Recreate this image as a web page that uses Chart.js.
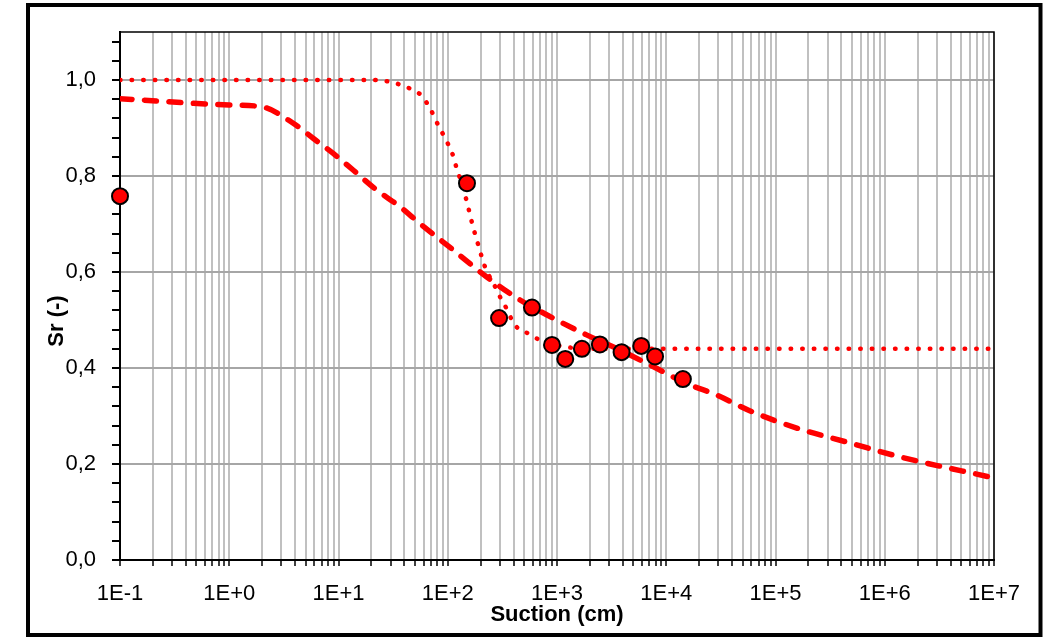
<!DOCTYPE html>
<html>
<head>
<meta charset="utf-8">
<title>Sr vs Suction</title>
<script src="https://cdn.jsdelivr.net/npm/chart.js@4.4.1/dist/chart.umd.min.js"></script>
<style>
	body { margin: 0; background: #fff; }
	#wrap { width: 1045px; height: 638px; position: relative; }
</style>
</head>
<body>
<div id="wrap"><canvas id="chart"></canvas></div>
<script>
// measured points
var measSuction = [0.1, 150, 295, 590, 900, 1190, 1690, 2470, 3900, 5900, 7900, 14200];
var measSr = [0.758, 0.785, 0.504, 0.526, 0.448, 0.419, 0.44, 0.449, 0.433, 0.446, 0.424, 0.377];

// dotted fit
var fitASuction = [0.1, 20, 30, 38, 48, 58, 66, 74, 82, 94, 112, 120, 134, 149, 167, 191, 220, 275, 306, 345, 383, 437, 545, 672, 1070, 2000, 10000000];
var fitASr = [1.0, 1.0, 0.996, 0.989, 0.979, 0.967, 0.948, 0.927, 0.905, 0.88, 0.842, 0.818, 0.785, 0.748, 0.702, 0.655, 0.61, 0.567, 0.545, 0.524, 0.502, 0.483, 0.472, 0.46, 0.446, 0.44, 0.44];

// dashed fit
var fitBSuction = [0.1, 1, 2, 3.85, 5.9, 8.95, 13.6, 22.3, 36.5, 55.6, 112, 226, 457, 920, 1862, 3758, 7570, 15300, 28800, 58000, 166000, 478000, 1370000, 10000000];
var fitBSr = [0.961, 0.948, 0.944, 0.91, 0.878, 0.847, 0.8125, 0.771, 0.736, 0.701, 0.646, 0.59, 0.542, 0.504, 0.469, 0.4375, 0.403, 0.368, 0.344, 0.311, 0.273, 0.244, 0.215, 0.171];

// axis ticks
var xDecades = [-1, 0, 1, 2, 3, 4, 5, 6, 7];
var xLabels = ["1E-1", "1E+0", "1E+1", "1E+2", "1E+3", "1E+4", "1E+5", "1E+6", "1E+7"];
var yMajor = [0, 0.2, 0.4, 0.6, 0.8, 1.0];
var yLabels = ["0,0", "0,2", "0,4", "0,6", "0,8", "1,0"];
var yMinorStep = 0.04;

function toPoints(xs, ys) {
	var out = [];
	for (var i = 0; i < xs.length; i++) out.push({x: xs[i], y: ys[i]});
	return out;
}

var xTickValues = [];
for (var d = 0; d < xDecades.length - 1; d++) {
	for (var m = 1; m <= 9; m++) xTickValues.push(m * Math.pow(10, xDecades[d]));
}
xTickValues.push(Math.pow(10, xDecades[xDecades.length - 1]));

var yTickValues = [];
for (var k = 0; k * yMinorStep < 1.1 - 1e-9; k++) yTickValues.push(Math.round(k * yMinorStep * 100) / 100);

function yMajorIndex(v) {
	for (var i = 0; i < yMajor.length; i++) if (Math.abs(yMajor[i] - v) < 1e-6) return i;
	return -1;
}
function xDecadeIndex(v) {
	for (var i = 0; i < xDecades.length; i++) if (Math.abs(Math.log10(v) - xDecades[i]) < 1e-6) return i;
	return -1;
}

var FONT = "'Liberation Sans', Arial, sans-serif";

var framePlugin = {
	id: "frame",
	afterDraw: function(chart) {
		var c = chart.ctx, a = chart.chartArea;
		c.save();
		// plot box top/right
		c.strokeStyle = "#000";
		c.lineWidth = 1.5;
		c.beginPath();
		c.moveTo(a.left, a.top);
		c.lineTo(a.right, a.top);
		c.lineTo(a.right, a.bottom);
		c.stroke();
		// outer frame
		c.lineWidth = 4;
		c.strokeRect(28, 5, 1012.5, 630);
		// y title
		c.translate(57, 321);
		c.rotate(-Math.PI / 2);
		c.fillStyle = "#000";
		c.font = "bold 22px " + FONT;
		c.textAlign = "center";
		c.textBaseline = "middle";
		c.fillText("Sr (-)", 0, 0);
		c.restore();
	}
};

new Chart(document.getElementById("chart"), {
	type: "scatter",
	data: {
		datasets: [
			{
				label: "Measured",
				data: toPoints(measSuction, measSr),
				backgroundColor: "#ff0000",
				borderColor: "#000",
				borderWidth: 2,
				pointRadius: 8,
				clip: false,
				order: 0
			},
			{
				label: "Fit 1",
				data: toPoints(fitASuction, fitASr),
				showLine: true,
				pointRadius: 0,
				borderColor: "#ff0000",
				borderWidth: 4.5,
				borderDash: [0.5, 11.1],
				borderCapStyle: "round",
				cubicInterpolationMode: "monotone",
				order: 1
			},
			{
				label: "Fit 2",
				data: toPoints(fitBSuction, fitBSr),
				showLine: true,
				pointRadius: 0,
				borderColor: "#ff0000",
				borderWidth: 5.5,
				borderDash: [12, 12.5],
				borderCapStyle: "round",
				cubicInterpolationMode: "monotone",
				order: 2
			}
		]
	},
	options: {
		responsive: true,
		maintainAspectRatio: false,
		animation: false,
		layout: { padding: { left: 30, top: 32, right: 51, bottom: 0 } },
		plugins: {
			legend: { display: false },
			tooltip: { enabled: false }
		},
		scales: {
			x: {
				type: "logarithmic",
				min: 0.1,
				max: 10000000,
				afterBuildTicks: function(scale) {
					scale.ticks = xTickValues.map(function(v) { return {value: v}; });
				},
				afterFit: function(scale) { scale.height = 78; },
				border: { color: "#000", width: 2 },
				grid: {
					color: "#c0c0c0",
					lineWidth: 2,
					tickColor: "#000",
					tickLength: 6,
					tickWidth: 1.5
				},
				ticks: {
					autoSkip: false,
					maxRotation: 0,
					padding: 15,
					color: "#000",
					font: { family: FONT, size: 22 },
					callback: function(value) {
						var i = xDecadeIndex(value);
						return i >= 0 ? xLabels[i] : "";
					}
				},
				title: {
					display: true,
					text: "Suction (cm)",
					color: "#000",
					font: { family: FONT, size: 22, weight: "bold" },
					padding: { top: 0, bottom: 10 }
				}
			},
			y: {
				type: "linear",
				min: 0,
				max: 1.1,
				afterBuildTicks: function(scale) {
					scale.ticks = yTickValues.map(function(v) { return {value: v}; });
				},
				afterFit: function(scale) { scale.width = 90; },
				border: { color: "#000", width: 2 },
				grid: {
					color: function(ctx) {
						return ctx.tick && yMajorIndex(ctx.tick.value) >= 0 ? "#a6a6a6" : "rgba(0,0,0,0)";
					},
					lineWidth: 2,
					tickColor: "#000",
					tickLength: 8,
					tickWidth: 2
				},
				ticks: {
					autoSkip: false,
					padding: 16,
					color: "#000",
					font: { family: FONT, size: 22 },
					callback: function(value) {
						var i = yMajorIndex(value);
						return i >= 0 ? yLabels[i] : "";
					}
				}
			}
		}
	},
	plugins: [framePlugin]
});
</script>
</body>
</html>
